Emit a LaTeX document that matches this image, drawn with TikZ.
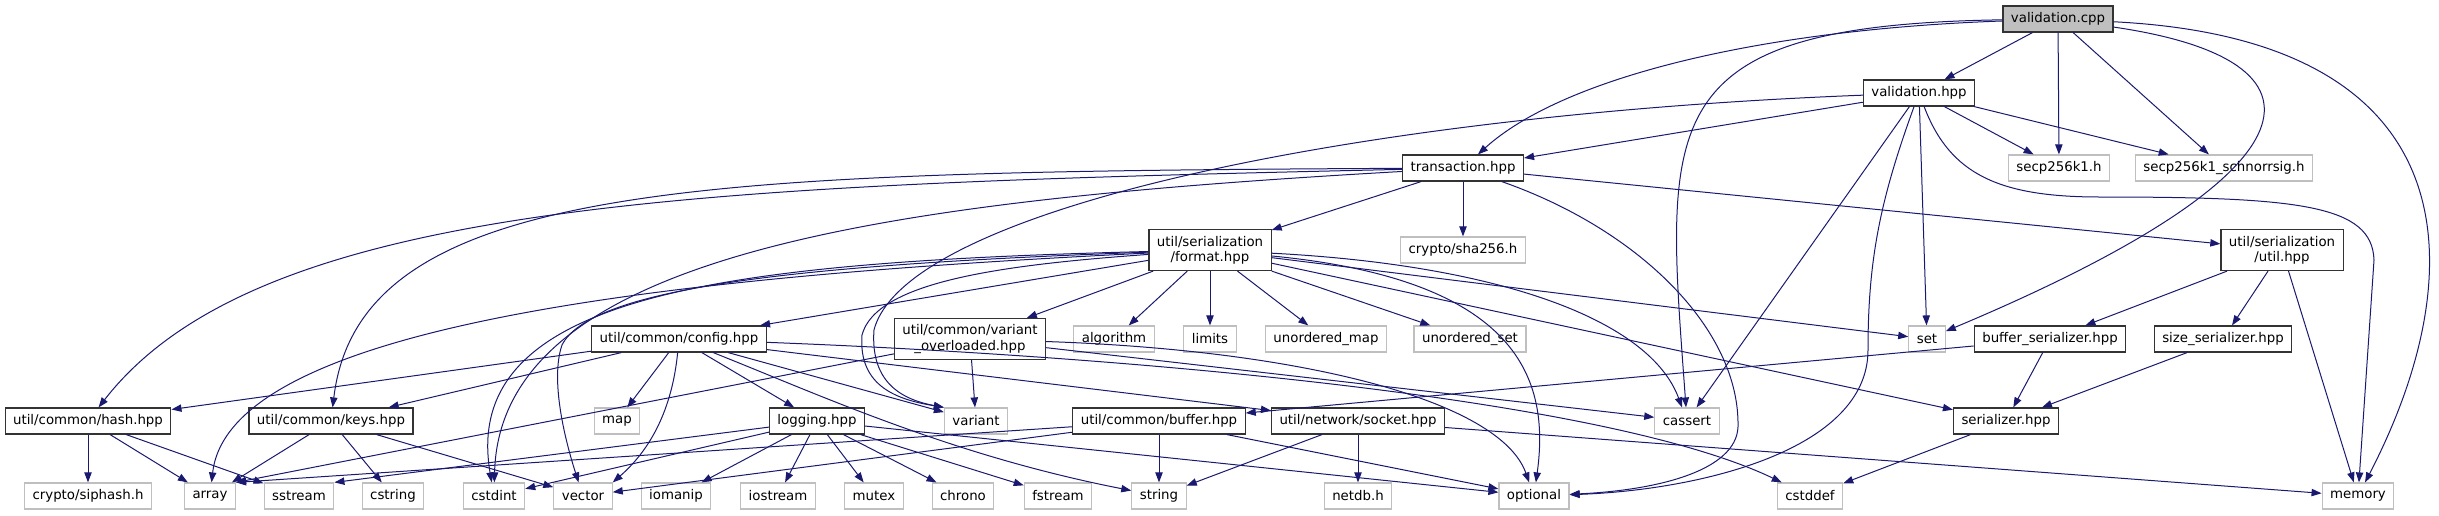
\documentclass[tikz,border=0pt]{standalone}
\usepackage{fontspec}
\setmainfont{DejaVu Sans}
\usetikzlibrary{arrows.meta}

\begin{document}
\begin{tikzpicture}[x=0.75pt, y=-0.75pt,
    every node/.style={font=\fontsize{10}{11.5}\selectfont, inner xsep=6pt, inner ysep=0pt,
        minimum height=19.5pt, align=center},
    filebox/.style={draw=black!80, line width=0.9pt, fill=white},
    sysbox/.style={draw=sysgray, line width=0.9pt, fill=white},
    rootbox/.style={draw=black!80, line width=0.9pt, fill=sysgray},
    twoline/.style={minimum height=30.75pt},
    dep/.style={draw=depblue, line width=0.75pt, -{Triangle[length=7.5pt,width=5.5pt]}}
]
% Define palette
\definecolor{depblue}{RGB}{25, 25, 112}
\definecolor{sysgray}{RGB}{191, 191, 191}

\useasboundingbox (0,0) rectangle (2439,515);

% root file
\node[rootbox] (vcpp) at (2058,19) {validation.cpp};

% project headers
\foreach \n/\x/\y/\t in {
    vhpp/1919/93/validation.hpp,
    trans/1463/168/transaction.hpp,
    config/679/339/{util/common/config.hpp},
    bufser/2050/339/buffer\_serializer.hpp,
    sizeser/2223/339/size\_serializer.hpp,
    hash/88/421/{util/common/hash.hpp},
    keys/331/421/{util/common/keys.hpp},
    logging/817/421/logging.hpp,
    buffer/1159/421/{util/common/buffer.hpp},
    socket/1358/421/{util/network/socket.hpp},
    serializer/2006/421/serializer.hpp} {
    \node[filebox] (\n) at (\x,\y) {\t};
}
\node[filebox, twoline] (format) at (1210,250) {util/serialization\\/format.hpp};
\node[filebox, twoline] (sutil) at (2282,250) {util/serialization\\/util.hpp};
\node[filebox, twoline] (varov) at (970,339) {util/common/variant\\\_overloaded.hpp};

% system headers
\foreach \n/\x/\y/\t in {
    secp/2059/168/secp256k1.h,
    schnorr/2224/168/secp256k1\_schnorrsig.h,
    sha/1463/250/{crypto/sha256.h},
    algorithm/1114/339/algorithm,
    limits/1210/339/limits,
    umap/1326/339/unordered\_map,
    uset/1470/339/unordered\_set,
    set/1927/339/set,
    map/617/421/map,
    variant/976/421/variant,
    cassert/1687/421/cassert,
    siphash/88/496/{crypto/siphash.h},
    array/210/496/array,
    sstream/299/496/sstream,
    cstring/393/496/cstring,
    cstdint/494/496/cstdint,
    vector/583/496/vector,
    iomanip/676/496/iomanip,
    iostream/778/496/iostream,
    mutex/874/496/mutex,
    chrono/963/496/chrono,
    fstream/1058/496/fstream,
    string/1159/496/string,
    netdb/1358/496/netdb.h,
    optional/1534/496/optional,
    cstddef/1810/496/cstddef,
    memory/2358/496/memory} {
    \node[sysbox] (\n) at (\x,\y) {\t};
}

% straight includes
\foreach \a/\b in {
    vcpp/vhpp, vcpp/secp, vcpp/schnorr,
    vhpp/secp, vhpp/schnorr, vhpp/trans, vhpp/cassert, vhpp/set,
    trans/format, trans/sha, trans/sutil,
    format/config, format/varov, format/algorithm, format/limits, format/umap,
    format/uset, format/set, format/serializer,
    config/hash, config/keys, config/map, config/logging,
    config/variant, config/socket,
    varov/variant, varov/array.north east, varov/cassert,
    logging/sstream.north east, logging/cstdint, logging/iomanip, logging/iostream,
    logging/mutex, logging/chrono, logging/fstream, logging/optional,
    hash/siphash, hash/array, hash/sstream,
    keys/array, keys/cstring, keys/vector,
    buffer/array.north east, buffer/vector, buffer/string, buffer/optional,
    socket/string, socket/netdb, socket/memory,
    sutil/bufser, sutil/sizeser, sutil/memory,
    bufser/serializer, bufser/buffer, sizeser/serializer,
    serializer/cstddef} {
    \draw[dep] (\a) -- (\b);
}

% curved includes
\draw[dep] (vcpp) .. controls (1750,30) and (1560,80) .. (trans);
\draw[dep] (vcpp) .. controls (1650,25) and (1665,120) .. (cassert);
\draw[dep] (vcpp) .. controls (2340,60) and (2330,170) .. (set);
\draw[dep] (vcpp) .. controls (2480,40) and (2470,280) .. (memory);
\draw[dep] (vhpp) .. controls (1350,115) and (905,210) .. (874,330)
    .. controls (870,385) and (905,400) .. (variant.north west);
\draw[dep] (vhpp) .. controls (1880,200) and (1868,260) .. (1868,350)
    .. controls (1868,450) and (1700,490) .. (optional);
\draw[dep] (vhpp) .. controls (1950,175) and (2000,197) .. (2100,197)
    .. controls (2300,197) and (2372,205) .. (2374,260) -- (memory);
\draw[dep] (trans) .. controls (700,185) and (260,200) .. (hash);
\draw[dep] (trans) .. controls (700,172) and (360,180) .. (keys);
\draw[dep] (trans) .. controls (900,200) and (500,250) .. (cstdint);
\draw[dep] (trans) .. controls (1640,230) and (1740,330) .. (1738,427)
    .. controls (1736,470) and (1660,490) .. (optional);
\draw[dep] (format) .. controls (700,275) and (230,320) .. (array);
\draw[dep] (format) .. controls (720,262) and (460,295) .. (cstdint);
\draw[dep] (format) .. controls (780,265) and (590,290) .. (562,345)
    .. controls (550,380) and (565,440) .. (vector);
\draw[dep] (format) .. controls (1000,265) and (876,282) .. (862,335)
    .. controls (858,388) and (900,400) .. (variant.north west);
\draw[dep] (format) .. controls (1520,280) and (1550,380) .. (optional);
\draw[dep] (format) .. controls (1500,265) and (1650,320) .. (cassert);
\draw[dep] (config) .. controls (672,410) and (650,450) .. (vector.north east);
\draw[dep] (config) .. controls (820,395) and (950,455) .. (string);
\draw[dep] (config) .. controls (1100,355) and (1600,395) .. (cstddef);
\draw[dep] (varov) .. controls (1300,350) and (1500,400) .. (optional);
\end{tikzpicture}
\end{document}
